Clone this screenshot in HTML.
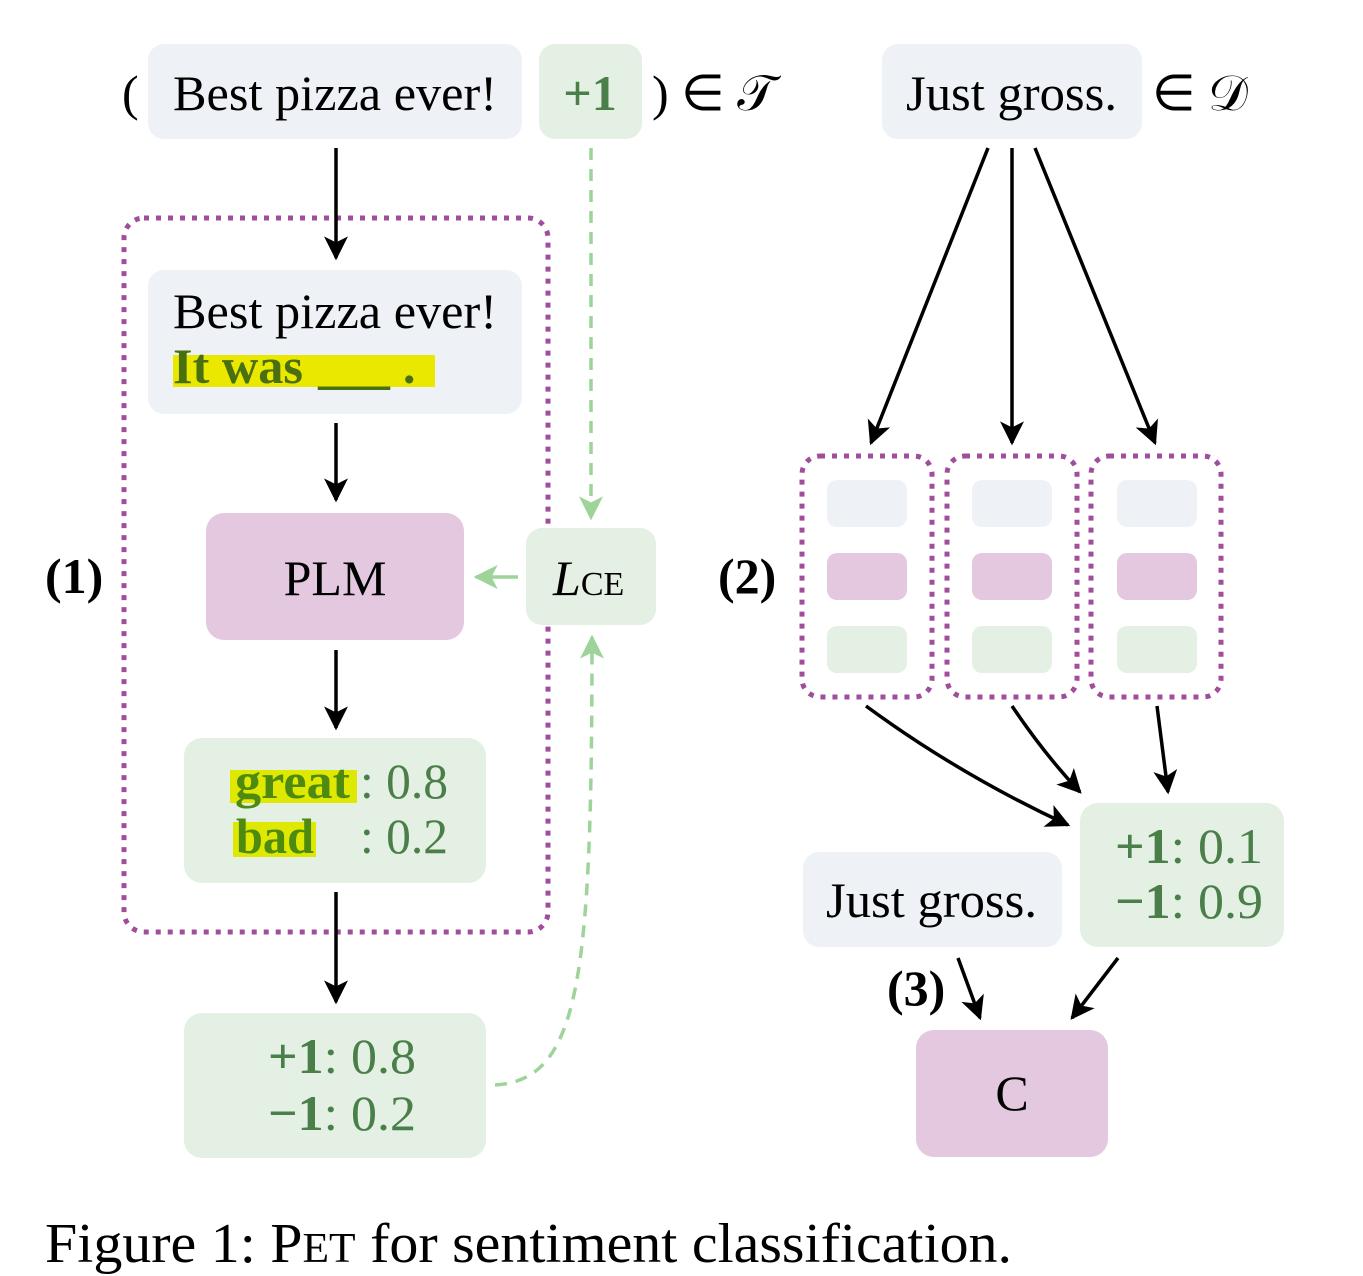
<!DOCTYPE html>
<html><head><style>body{margin:0;background:#fff}svg{display:block}</style></head><body>
<svg width="1363" height="1276" viewBox="0 0 1363 1276" xmlns="http://www.w3.org/2000/svg" font-family="Liberation Serif, serif">
<defs>
<marker id="a" viewBox="0 0 20 20" markerWidth="24" markerHeight="24" refX="18" refY="10" orient="auto" markerUnits="userSpaceOnUse"><path d="M0,0 L20,10 L0,20 L5,10 z" fill="#000"/></marker>
<marker id="g" viewBox="0 0 20 20" markerWidth="24" markerHeight="24" refX="18" refY="10" orient="auto" markerUnits="userSpaceOnUse"><path d="M0,0 L20,10 L0,20 L5,10 z" fill="#9ed39a"/></marker>
</defs>
<g font-size="50">
<text x="122" y="110">(</text>
<rect x="148" y="44" width="374" height="95" rx="16" fill="#eef2f6"/>
<text x="173" y="110" textLength="324" lengthAdjust="spacingAndGlyphs">Best pizza ever!</text>
<rect x="539" y="44" width="103" height="95" rx="16" fill="#e3f0e3"/>
<text x="590" y="110" text-anchor="middle" font-weight="bold" fill="#4a7f4a">+1</text>
<text x="652" y="110">) ∈ 𝒯</text>
<rect x="882" y="44" width="260" height="95" rx="16" fill="#eef2f6"/>
<text x="906" y="110" textLength="211" lengthAdjust="spacingAndGlyphs">Just gross.</text>
<text x="1152" y="110">∈ 𝒟</text>

<rect x="124" y="218" width="424" height="714" rx="20" fill="none" stroke="#a04d9b" stroke-width="5" stroke-dasharray="5 7"/>
<rect x="148" y="270" width="374" height="144" rx="16" fill="#eef2f6"/>
<rect x="173" y="355" width="262" height="32" fill="#ebe800"/>
<text x="173" y="328" textLength="324" lengthAdjust="spacingAndGlyphs">Best pizza ever!</text>
<text x="173" y="383" font-weight="bold" fill="#4a6f10" textLength="130" lengthAdjust="spacingAndGlyphs">It was</text>
<text x="318" y="383" font-weight="bold" fill="#4a6f10" textLength="72" lengthAdjust="spacingAndGlyphs">____</text>
<text x="403" y="383" font-weight="bold" fill="#4a6f10">.</text>
<rect x="206" y="513" width="258" height="127" rx="18" fill="#e3c8df"/>
<text x="335" y="595" text-anchor="middle">PLM</text>
<rect x="184" y="738" width="302" height="145" rx="18" fill="#e3f0e3"/>
<rect x="230" y="770" width="127" height="33" fill="#dfe800"/>
<rect x="233" y="822" width="83" height="35" fill="#dfe800"/>
<text x="235" y="798" font-weight="bold" fill="#4f8a10" textLength="115" lengthAdjust="spacingAndGlyphs">great</text>
<text x="360" y="798" fill="#4a7f4a" textLength="88" lengthAdjust="spacingAndGlyphs">: 0.8</text>
<text x="236" y="853" font-weight="bold" fill="#4f8a10" textLength="78" lengthAdjust="spacingAndGlyphs">bad</text>
<text x="360" y="853" fill="#4a7f4a" textLength="88" lengthAdjust="spacingAndGlyphs">: 0.2</text>
<rect x="184" y="1013" width="302" height="145" rx="18" fill="#e3f0e3"/>
<text x="268" y="1073" fill="#4a7f4a" textLength="148" lengthAdjust="spacingAndGlyphs"><tspan font-weight="bold">+1</tspan>: 0.8</text>
<text x="268" y="1130" fill="#4a7f4a" textLength="148" lengthAdjust="spacingAndGlyphs"><tspan font-weight="bold">−1</tspan>: 0.2</text>
<rect x="526" y="528" width="130" height="97" rx="16" fill="#e3f0e3"/>
<text x="553" y="595"><tspan font-style="italic">L</tspan><tspan font-size="34">CE</tspan></text>
<text x="45" y="593" font-weight="bold">(1)</text>
<text x="718" y="593" font-weight="bold">(2)</text>
<text x="887" y="1005" font-weight="bold">(3)</text>

<rect x="1080" y="803" width="204" height="144" rx="18" fill="#e3f0e3"/>
<text x="1115" y="863" fill="#4a7f4a" textLength="148" lengthAdjust="spacingAndGlyphs"><tspan font-weight="bold">+1</tspan>: 0.1</text>
<text x="1115" y="918" fill="#4a7f4a" textLength="148" lengthAdjust="spacingAndGlyphs"><tspan font-weight="bold">−1</tspan>: 0.9</text>
<rect x="803" y="852" width="259" height="95" rx="16" fill="#eef2f6"/>
<text x="826" y="917" textLength="211" lengthAdjust="spacingAndGlyphs">Just gross.</text>
<rect x="916" y="1030" width="192" height="127" rx="18" fill="#e3c8df"/>
<text x="1012" y="1110" text-anchor="middle">C</text>
</g>
<g fill="none" stroke="#a04d9b" stroke-width="5" stroke-dasharray="5 7">
<rect x="802" y="456" width="130" height="241" rx="18"/>
<rect x="947" y="456" width="130" height="241" rx="18"/>
<rect x="1091" y="456" width="130" height="241" rx="18"/>
</g>
<g>
<rect x="827" y="480" width="80" height="47" rx="10" fill="#eef2f6"/><rect x="827" y="553" width="80" height="47" rx="10" fill="#e3c8df"/><rect x="827" y="626" width="80" height="47" rx="10" fill="#e3f0e3"/>
<rect x="972" y="480" width="80" height="47" rx="10" fill="#eef2f6"/><rect x="972" y="553" width="80" height="47" rx="10" fill="#e3c8df"/><rect x="972" y="626" width="80" height="47" rx="10" fill="#e3f0e3"/>
<rect x="1117" y="480" width="80" height="47" rx="10" fill="#eef2f6"/><rect x="1117" y="553" width="80" height="47" rx="10" fill="#e3c8df"/><rect x="1117" y="626" width="80" height="47" rx="10" fill="#e3f0e3"/>
</g>
<g stroke="#000" stroke-width="3.5" fill="none" marker-end="url(#a)">
<line x1="336" y1="148" x2="336" y2="258"/>
<line x1="336" y1="423" x2="336" y2="500"/>
<line x1="336" y1="650" x2="336" y2="728"/>
<line x1="336" y1="892" x2="336" y2="1002"/>
<line x1="988" y1="148" x2="871" y2="443"/>
<line x1="1012" y1="148" x2="1012" y2="443"/>
<line x1="1035" y1="148" x2="1155" y2="443"/>
<path d="M866,706 Q960,775 1068,825"/>
<path d="M1012,706 Q1045,755 1080,792"/>
<line x1="1157" y1="706" x2="1168" y2="792"/>
<line x1="958" y1="958" x2="980" y2="1018"/>
<line x1="1118" y1="958" x2="1072" y2="1018"/>
</g>
<g stroke="#9ed39a" stroke-width="3.5" fill="none" stroke-dasharray="12 9" marker-end="url(#g)">
<line x1="591" y1="148" x2="591" y2="518"/>
<path d="M495,1085 C580,1080 592,980 592,637"/>
</g>
<line x1="518" y1="577" x2="476" y2="577" stroke="#9ed39a" stroke-width="3.5" marker-end="url(#g)"/>
<text x="45" y="1262" font-size="56" textLength="967" lengthAdjust="spacingAndGlyphs">Figure 1: P<tspan font-size="42">ET</tspan> for sentiment classification.</text>
</svg>
</body></html>
